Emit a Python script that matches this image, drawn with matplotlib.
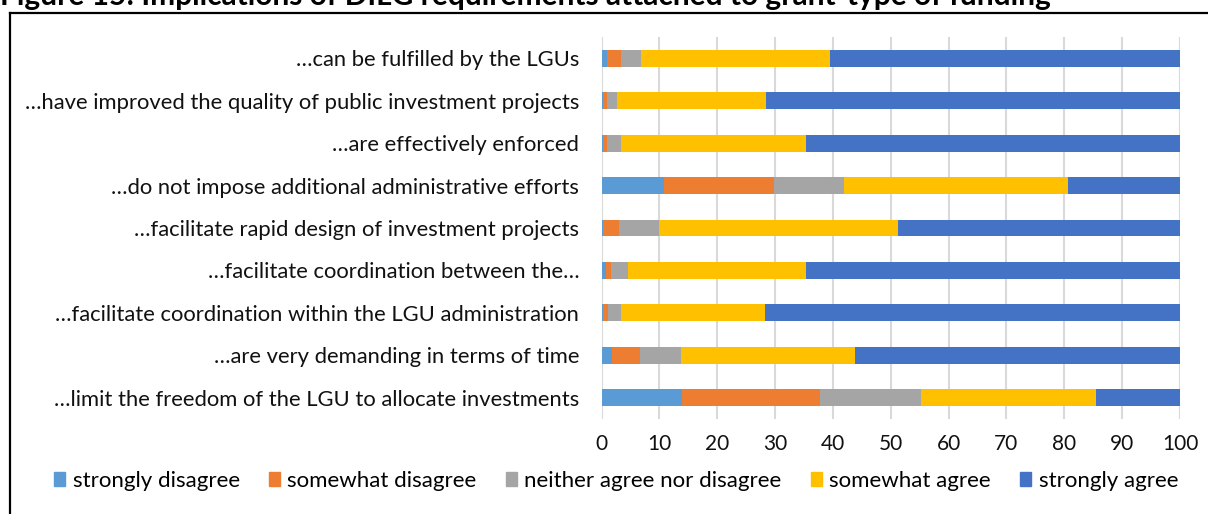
import matplotlib
matplotlib.use("Agg")
import matplotlib.pyplot as plt
from matplotlib.lines import Line2D
import numpy as np

categories = [
    "…can be fulfilled by the LGUs",
    "…have improved the quality of public investment projects",
    "…are effectively enforced",
    "…do not impose additional administrative efforts",
    "…facilitate rapid design of investment projects",
    "…facilitate coordination between the…",
    "…facilitate coordination within the LGU administration",
    "…are very demanding in terms of time",
    "…limit the freedom of the LGU to allocate investments",
]
series_names = ["strongly disagree", "somewhat disagree", "neither agree nor disagree",
                "somewhat agree", "strongly agree"]
strongly_disagree = [1.0, 0.3, 0.3, 10.8, 0.3, 0.7, 0.3, 1.8, 14.0]
somewhat_disagree = [2.3, 0.7, 0.7, 19.0, 2.8, 1.0, 0.8, 4.9, 23.7]
neither = [3.5, 1.7, 2.4, 12.1, 6.9, 2.9, 2.2, 7.1, 17.5]
somewhat_agree = [32.7, 25.7, 31.9, 38.7, 41.3, 30.7, 24.9, 30.1, 30.3]
strongly_agree = [60.5, 71.6, 64.7, 19.4, 48.7, 64.7, 71.8, 56.1, 14.5]
colors = ["#5B9BD5", "#ED7D31", "#A5A5A5", "#FFC000", "#4472C4"]
x_ticks = [0, 10, 20, 30, 40, 50, 60, 70, 80, 90, 100]

FONT = "Lato"
plt.rcParams['font.family'] = [FONT, 'DejaVu Sans']

W, H = 1208, 514
fig = plt.figure(figsize=(W / 100, H / 100), dpi=100)
ax = fig.add_axes([601.5 / W, 1 - 419 / H, (1180 - 601.5) / W, (419 - 37) / H])

data = [strongly_disagree, somewhat_disagree, neither, somewhat_agree, strongly_agree]
y = np.arange(len(categories))
left = np.zeros(len(categories))
for name, vals, c in zip(series_names, data, colors):
    vals = np.array(vals)
    ax.barh(y, vals, left=left, height=0.4, color=c, label=name, zorder=3)
    left += vals

ax.set_xlim(0, 100)
ax.set_ylim(len(categories) - 0.5, -0.5)
ax.set_xticks(x_ticks)
ax.set_yticks(y)
ax.set_yticklabels(categories, fontsize=15.8, color="#111111")
ax.tick_params(axis='x', labelsize=15, length=0, pad=11, colors="#111111")
ax.tick_params(axis='y', length=0, pad=16)
ax.grid(axis='x', color="#D9D9D9", linewidth=1.5, zorder=0)
for s in ax.spines.values():
    s.set_visible(False)

handles = [plt.Rectangle((0, 0), 1, 1, color=c) for c in colors]
fig.legend(handles, series_names, loc='center', ncol=5, frameon=False,
           bbox_to_anchor=(616 / W, 1 - 481 / H), fontsize=16,
           handlelength=0.5, handleheight=0.55, handletextpad=0.35, columnspacing=1.3)

# border of chart area
fig.add_artist(Line2D([9.5 / W, 9.5 / W], [0, 1 - 12.5 / H], color="black", linewidth=1.6,
                      transform=fig.transFigure))
fig.add_artist(Line2D([9.5 / W, 1], [1 - 12.5 / H, 1 - 12.5 / H], color="black", linewidth=1.6,
                      transform=fig.transFigure))

fig.text(0 / W, 1 - 5 / H, "Figure 15: Implications of DILG requirements attached to grant-type of funding",
         fontsize=21.5, fontweight='bold', ha='left', va='baseline', color="black")

fig.savefig("out.png", dpi=100)
